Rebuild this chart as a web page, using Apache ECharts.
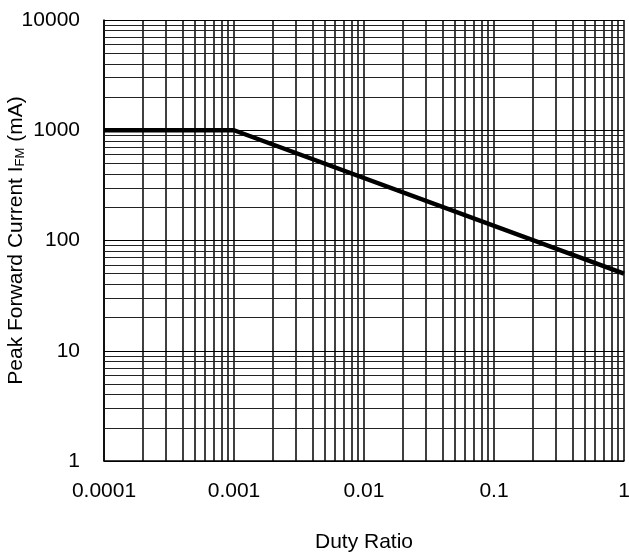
<!DOCTYPE html>
<html>
<head>
<meta charset="utf-8">
<script src="https://cdn.jsdelivr.net/npm/echarts@6/dist/echarts.min.js"></script>
<style>
html,body{margin:0;padding:0;background:#fff;}
#chart{width:629px;height:556px;}
</style>
</head>
<body>
<div id="chart"></div>
<script>
// Data
var dutyRatio = [0.0001, 0.001, 1];
var peakCurrent = [1000, 1000, 50];
var xDecades = [0.0001, 0.001, 0.01, 0.1];
var yDecades = [1, 10, 100, 1000];
var minorSteps = [2, 3, 4, 5, 6, 7, 8, 9];
var xTickLabels = ['0.0001', '0.001', '0.01', '0.1', '1'];
var yTickLabels = ['1', '10', '100', '1000', '10000'];
var xMin = 0.0001, xMax = 1, yMin = 1, yMax = 10000;

var curve = dutyRatio.map(function (x, i) { return [x, peakCurrent[i]]; });
var vLines = [];
xDecades.forEach(function (d) { minorSteps.forEach(function (k) {
  var v = +(d * k).toPrecision(6);
  vLines.push({ coords: [[v, yMin], [v, yMax]] });
}); });
var hLines = [];
yDecades.forEach(function (d) { minorSteps.forEach(function (k) {
  hLines.push({ coords: [[xMin, d * k], [xMax, d * k]] });
}); });

var font = 'Liberation Sans, Arial, sans-serif';
var fs = 21;
var chart = echarts.init(document.getElementById('chart'), null, { renderer: 'canvas' });
chart.setOption({
  animation: false,
  backgroundColor: '#fff',
  grid: { left: 104, right: 5, top: 20, bottom: 95, containLabel: false, outerBoundsMode: 'none' },
  xAxis: {
    type: 'log', logBase: 10, min: xMin, max: xMax,
    name: 'Duty Ratio', nameLocation: 'middle', nameGap: 71, nameMoveOverlap: false,
    nameTextStyle: { fontFamily: font, fontSize: fs, color: '#000' },
    axisLine: { show: true, lineStyle: { color: '#000', width: 1.5 } },
    axisTick: { show: false },
    axisLabel: {
      fontFamily: font, fontSize: fs, color: '#000', margin: 20,
      formatter: function (v) {
        var i = Math.round(Math.log10(v)) + 4;
        return xTickLabels[i] !== undefined ? xTickLabels[i] : '';
      }
    },
    splitLine: { show: true, lineStyle: { color: '#000', width: 1.5 } }
  },
  yAxis: {
    type: 'log', logBase: 10, min: yMin, max: yMax,
    name: '{n|Peak Forward Current I}{s|FM}{n| (mA)}', nameLocation: 'middle', nameGap: 77,
    nameRotate: 90, nameMoveOverlap: false,
    nameTextStyle: {
      fontFamily: font, fontSize: fs, color: '#000',
      rich: {
        n: { fontFamily: font, fontSize: fs, color: '#000' },
        s: { fontFamily: font, fontSize: 13, color: '#000', verticalAlign: 'bottom', padding: [7, 0, 0, 0] }
      }
    },
    axisLine: { show: true, lineStyle: { color: '#000', width: 1.5 } },
    axisTick: { show: false },
    axisLabel: {
      fontFamily: font, fontSize: fs, color: '#000', margin: 24,
      formatter: function (v) {
        var i = Math.round(Math.log10(v));
        return yTickLabels[i] !== undefined ? yTickLabels[i] : '';
      }
    },
    splitLine: { show: true, lineStyle: { color: '#000', width: 1 } }
  },
  series: [
    {
      type: 'lines', coordinateSystem: 'cartesian2d', silent: true, z: 1,
      lineStyle: { color: '#000', width: 1.5, opacity: 1 },
      data: vLines
    },
    {
      type: 'lines', coordinateSystem: 'cartesian2d', silent: true, z: 1,
      lineStyle: { color: '#222', width: 1, opacity: 1 },
      data: hLines
    },
    {
      type: 'line', data: curve, z: 5, showSymbol: false, symbol: 'none',
      lineStyle: { color: '#000', width: 4.5 }
    }
  ]
});
</script>
</body>
</html>
